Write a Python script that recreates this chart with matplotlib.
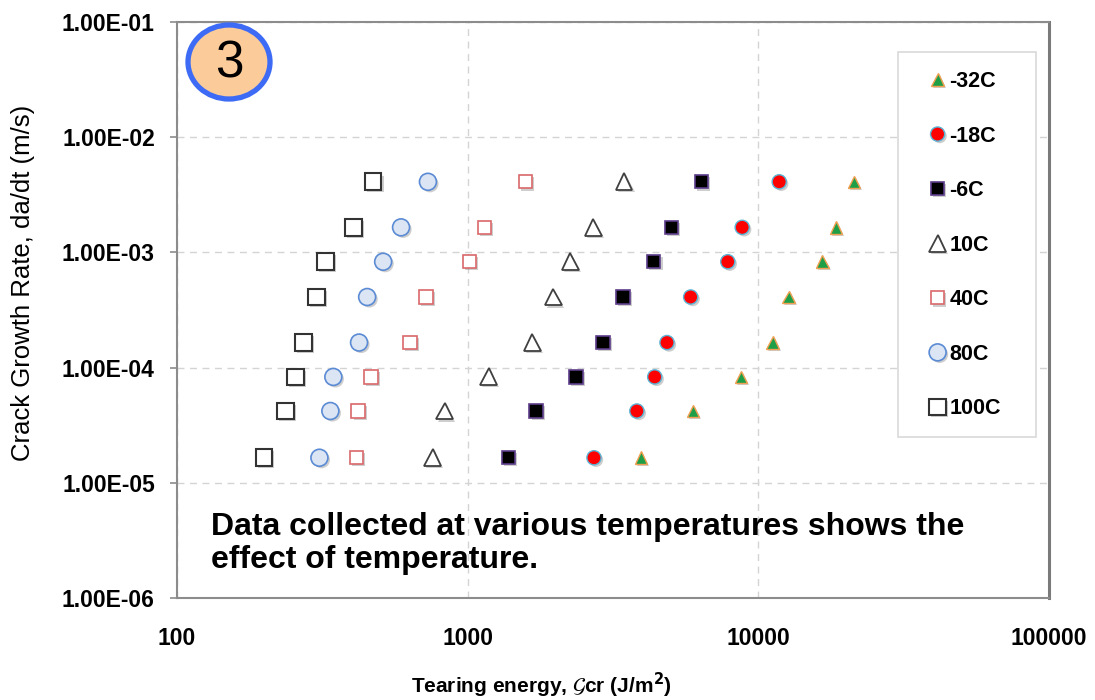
import matplotlib
matplotlib.use("Agg")
import matplotlib.pyplot as plt
import matplotlib.patheffects as pe
from matplotlib.patches import Ellipse, Rectangle
from matplotlib.ticker import FixedLocator, FuncFormatter, NullLocator

plt.rcParams["font.family"] = ["Liberation Sans", "DejaVu Sans"]

# =========================
# Donnees
# =========================

crack_rate = [4.1e-3, 1.65e-3, 8.3e-4, 4.1e-4, 1.65e-4, 8.3e-5, 4.2e-5, 1.65e-5]

labels = ["-32C", "-18C", "-6C", "10C", "40C", "80C", "100C"]

energy_m32 = [21300, 18500, 16600, 12700, 11200, 8700, 5950, 3950]
energy_m18 = [11800, 8800, 7850, 5850, 4850, 4400, 3820, 2720]
energy_m6 = [6380, 5030, 4370, 3420, 2920, 2360, 1720, 1380]
energy_10 = [3450, 2700, 2250, 1970, 1670, 1180, 834, 759]
energy_40 = [1580, 1140, 1016, 718, 633, 465, 420, 414]
energy_80 = [730, 590, 512, 451, 423, 345, 337, 309]
energy_100 = [473, 404, 324, 302, 272, 256, 236, 199]

energies = [energy_m32, energy_m18, energy_m6, energy_10, energy_40, energy_80, energy_100]

# style des marqueurs (marker, taille, fond, bord, epaisseur bord)
styles = [
    ("^", 9.0, "#1f9e48", "#f0a050", 1.0),
    ("o", 10.2, "#ff0000", "#5ab4d6", 1.0),
    ("s", 9.6, "#000000", "#5c3d8a", 1.2),
    ("^", 12.2, "#ffffff", "#404040", 1.3),
    ("s", 9.6, "#ffffff", "#d9686a", 1.2),
    ("o", 12.2, "#dbe5f3", "#5b8bd4", 1.2),
    ("s", 12.0, "#ffffff", "#333333", 1.5),
]

W, H = 1095, 700
fig = plt.figure(figsize=(W / 100, H / 100), dpi=100)
ax = fig.add_axes([177 / W, 1 - 598 / H, (1049 - 177) / W, (598 - 22) / H])

shadow = [pe.SimplePatchShadow(offset=(1.5, -1.5), shadow_rgbFace="0.45", alpha=0.35), pe.Normal()]

for lab, ener, (mk, ms, fc, ec, mew) in zip(labels, energies, styles):
    ax.plot(ener, crack_rate, linestyle="none", marker=mk, markersize=ms,
            markerfacecolor=fc, markeredgecolor=ec, markeredgewidth=mew,
            label=lab, path_effects=shadow, zorder=3)

ax.set_xscale("log")
ax.set_yscale("log")
ax.set_xlim(100, 100000)
ax.set_ylim(1e-6, 1e-1)

ax.xaxis.set_major_locator(FixedLocator([100, 1000, 10000, 100000]))
ax.yaxis.set_major_locator(FixedLocator([1e-6, 1e-5, 1e-4, 1e-3, 1e-2, 1e-1]))
ax.xaxis.set_minor_locator(NullLocator())
ax.yaxis.set_minor_locator(NullLocator())
ax.xaxis.set_major_formatter(FuncFormatter(lambda v, p: f"{v:.0f}"))
ax.yaxis.set_major_formatter(FuncFormatter(lambda v, p: f"{v:.2E}"))

for lbl in ax.get_xticklabels() + ax.get_yticklabels():
    lbl.set_fontweight("bold")
ax.tick_params(axis="x", length=0, pad=21, labelsize=16.5)
ax.tick_params(axis="y", length=5, width=1.2, color="#8c8c8c", pad=11, labelsize=16.5)

ax.grid(True, which="major", color="#d4d4d4", linestyle=(0, (5, 4)), linewidth=1)
ax.set_axisbelow(True)

for side in ["left", "top", "bottom"]:
    ax.spines[side].set_color("#8c8c8c")
    ax.spines[side].set_linewidth(1.5)
ax.spines["right"].set_color("#7a7a7a")
ax.spines["right"].set_linewidth(2.2)

fig.text(23 / W, 1 - 283 / H, "Crack Growth Rate, da/dt (m/s)", fontsize=18.5,
         rotation=90, ha="center", va="center")
fig.text(541 / W, 1 - 685 / H, r"Tearing energy, $\mathcal{G}$cr (J/m$^\mathbf{2}$)",
         fontsize=15, fontweight="bold", ha="center", va="center")

# cadre de la legende (plus large que son contenu, style Excel)
ax.add_patch(Rectangle((898 / W, 1 - 437 / H), 138 / W, 385 / H, transform=fig.transFigure,
                       facecolor="white", edgecolor="#d9d9d9", linewidth=1.2,
                       zorder=4, clip_on=False))
leg = ax.legend(loc="upper left", bbox_to_anchor=(929 / W, 1 - 71 / H),
                bbox_transform=fig.transFigure, frameon=False, borderpad=0,
                borderaxespad=0, handlelength=0.8, handletextpad=0.15,
                labelspacing=1.56, markerscale=1.0,
                prop={"weight": "bold", "size": 15.5})
leg.set_zorder(5)

fig.text(211 / W, 1 - 512 / H,
         "Data collected at various temperatures shows the\neffect of temperature.",
         fontsize=23, fontweight="bold", ha="left", va="top", linespacing=1.12)

# pastille numerotee
fig.add_artist(Ellipse((2.29, (H - 62) / 100), 0.82, 0.74, transform=fig.dpi_scale_trans,
                       facecolor="#fbcb9a", edgecolor="#3d6bf5", linewidth=3.8))
fig.text(229 / W, 1 - 64 / H, "3", fontsize=37, ha="center", va="center")

plt.savefig("out.png", dpi=100)
